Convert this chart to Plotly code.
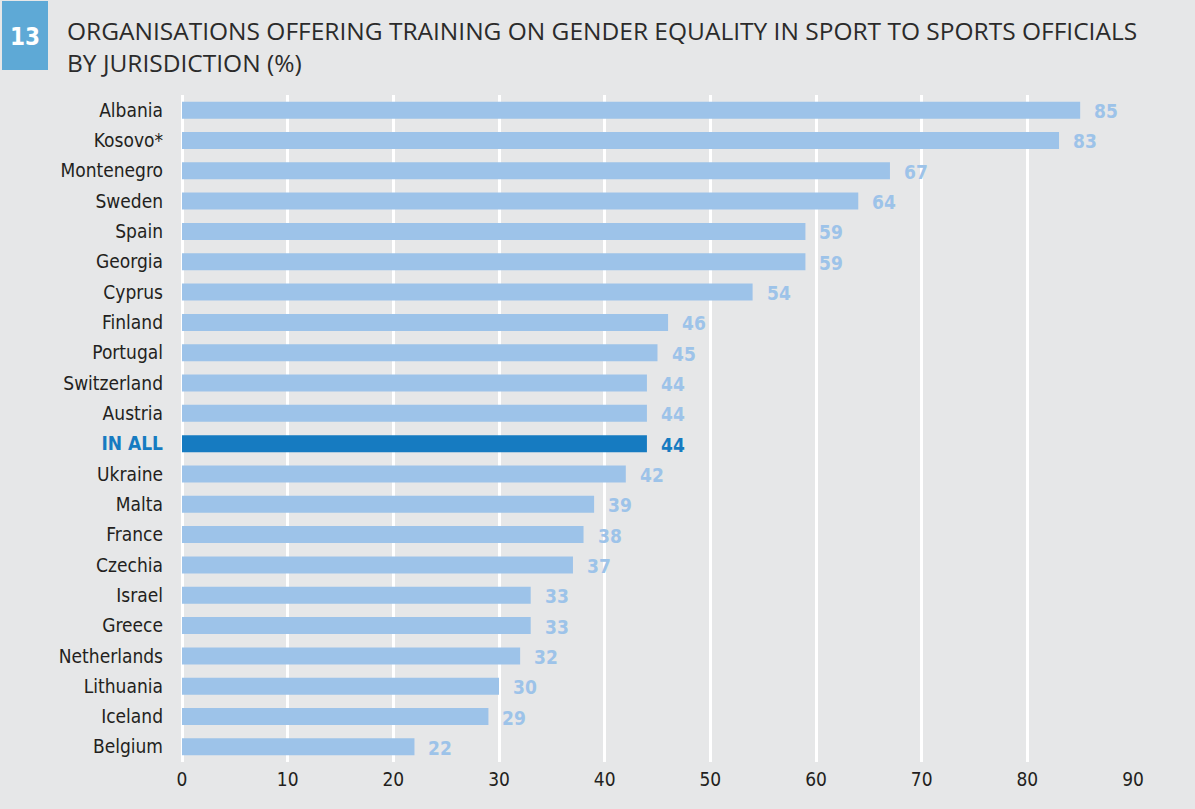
import plotly.graph_objects as go

countries = ["Albania", "Kosovo*", "Montenegro", "Sweden", "Spain", "Georgia", "Cyprus",
             "Finland", "Portugal", "Switzerland", "Austria", "IN ALL", "Ukraine", "Malta",
             "France", "Czechia", "Israel", "Greece", "Netherlands", "Lithuania", "Iceland", "Belgium"]
values = [85, 83, 67, 64, 59, 59, 54, 46, 45, 44, 44, 44, 42, 39, 38, 37, 33, 33, 32, 30, 29, 22]
highlight = "IN ALL"

LIGHT = "#9DC3E9"
DARK = "#167BC1"
FONT = "Liberation Sans Narrow, DejaVu Sans Condensed, Noto Sans, sans-serif"

colors = [DARK if c == highlight else LIGHT for c in countries]
ticktext = [f"<b><span style='color:{DARK}'>{c}</span></b>" if c == highlight else c for c in countries]

fig = go.Figure()
fig.add_trace(go.Bar(
    x=values, y=countries, orientation="h",
    marker=dict(color=colors, line=dict(width=0)),
    hoverinfo="x+y",
))

for c, v in zip(countries, values):
    fig.add_annotation(
        x=v, y=c, text=f"<b>{v}</b>", showarrow=False,
        xanchor="left", xshift=12, yshift=-1,
        font=dict(family=FONT, size=19, color=DARK if c == highlight else LIGHT),
    )

PW, PH = 951, 667  # plot area size in px
fig.add_shape(type="rect", xref="paper", yref="paper",
              x0=-180/PW, x1=-134/PW, y0=1 + (95-70)/PH, y1=1 + (95-1)/PH,
              fillcolor="#5EA9D6", line=dict(width=0), layer="above")
fig.add_annotation(xref="paper", yref="paper", x=-157/PW, y=1 + (95-37)/PH,
                   text="<b>13</b>", showarrow=False, xanchor="center", yanchor="middle",
                   font=dict(family=FONT, size=24, color="white"))
fig.add_annotation(xref="paper", yref="paper", x=-117/PW, y=1 + (95-12)/PH,
                   text="ORGANISATIONS OFFERING TRAINING ON GENDER EQUALITY IN SPORT TO SPORTS OFFICIALS<br>BY JURISDICTION (%)",
                   showarrow=False, xanchor="left", yanchor="top", align="left",
                   font=dict(family="Open Sans, sans-serif", size=24.5, color="#2b2b2b"))

fig.update_layout(
    width=1195, height=809,
    paper_bgcolor="#E6E7E8", plot_bgcolor="#E6E7E8",
    margin=dict(l=182, r=62, t=95, b=47),
    bargap=0.44,
    showlegend=False,
    font=dict(family=FONT, size=19, color="#231f20"),
)
fig.update_xaxes(range=[0, 90], dtick=10, showgrid=True, gridcolor="white", gridwidth=2.5,
                 zeroline=True, zerolinecolor="white", zerolinewidth=2.5,
                 tickfont=dict(family=FONT, size=19, color="#231f20"),
                 ticks="", ticklabelstandoff=4, fixedrange=True)
fig.update_yaxes(categoryorder="array", categoryarray=countries, autorange="reversed",
                 tickvals=countries, ticktext=ticktext, ticks="", showgrid=False,
                 ticklabelstandoff=18,
                 tickfont=dict(family=FONT, size=19, color="#231f20"), fixedrange=True)

fig.write_html("out.html", config={"displayModeBar": False},
               post_script="document.body.style.margin='0';document.body.style.background='#E6E7E8';")
